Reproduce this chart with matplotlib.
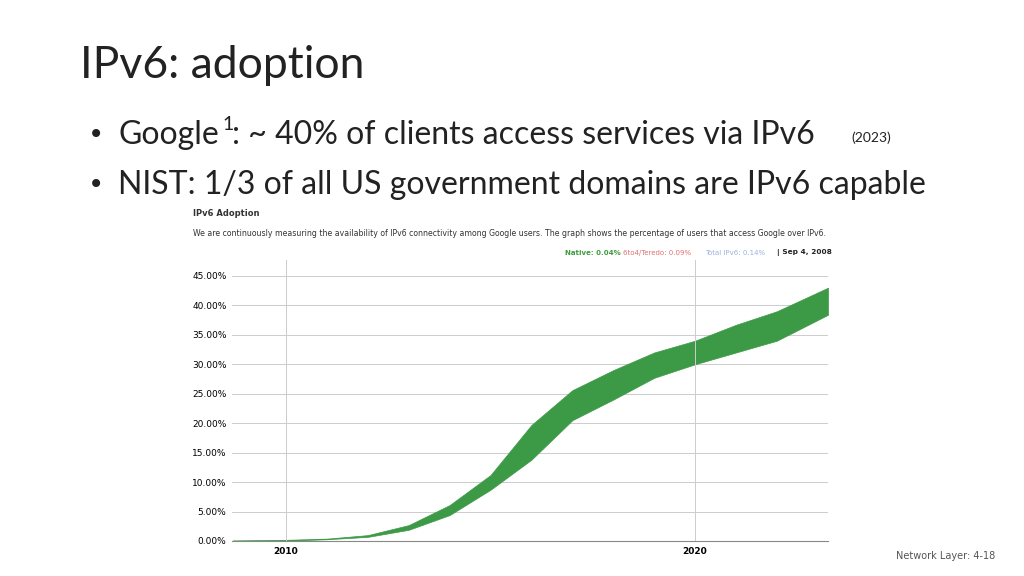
import numpy as np
import matplotlib.pyplot as plt

# yearly envelope of the Google IPv6 adoption band (%)
years = [2008.7, 2010, 2011, 2012, 2013, 2014, 2015, 2016, 2017, 2018, 2019, 2020, 2021, 2022, 2023.25]
low = [0.0, 0.05, 0.3, 0.7, 1.9, 4.4, 8.7, 13.8, 20.5, 24.0, 27.7, 30.0, 32.0, 34.0, 38.4]
high = [0.1, 0.2, 0.4, 1.0, 2.7, 6.1, 11.2, 19.7, 25.6, 29.0, 32.0, 34.0, 36.7, 39.0, 43.0]
yticks = [0, 5, 10, 15, 20, 25, 30, 35, 40, 45]
xticks = [2010, 2020]

fig = plt.figure(figsize=(10.24, 5.76), dpi=100)
fig.patch.set_facecolor('white')

fig.text(80/1024, 1-65/576, "IPv6: adoption", fontsize=32, va='center', family='Lato', color='#222222')
fig.text(88/1024, 1-135/576, "•", fontsize=20, va='center', color='#222222')
fig.text(118/1024, 1-135/576, "Google", fontsize=23, va='center', family='Lato', color='#222222')
fig.text(222/1024, 1-125/576, "1", fontsize=14, va='center', family='Lato', color='#222222')
fig.text(232/1024, 1-135/576, ": ~ 40% of clients access services via IPv6", fontsize=23,
         va='center', family='Lato', color='#222222')
fig.text(851/1024, 1-138/576, "(2023)", fontsize=10, va='center', family='Lato', color='#222222')
fig.text(88/1024, 1-185/576, "•", fontsize=20, va='center', color='#222222')
fig.text(118/1024, 1-185/576, "NIST: 1/3 of all US government domains are IPv6 capable", fontsize=23,
         va='center', family='Lato', color='#222222')

fig.text(193/1024, 1-213/576, "IPv6 Adoption", fontsize=6, weight='bold', va='center', color='#333333')
fig.text(193/1024, 1-234/576, "We are continuously measuring the availability of IPv6 connectivity among Google users. "
         "The graph shows the percentage of users that access Google over IPv6.", fontsize=5.6, va='center', color='#333333')
fig.text(565/1024, 1-253/576, "Native: 0.04%", fontsize=5, weight='bold', va='center', color='#3c9c3c')
fig.text(623/1024, 1-253/576, "6to4/Teredo: 0.09%", fontsize=5, va='center', color='#e07070')
fig.text(705/1024, 1-253/576, "Total IPv6: 0.14%", fontsize=5, va='center', color='#99b4dd')
fig.text(777/1024, 1-253/576, "| Sep 4, 2008", fontsize=5.3, weight='bold', va='center', color='#222222')

ax = fig.add_axes([232/1024, 1-541/576, 596/1024, 281/576])
ax.fill_between(years, low, high, color='#3c9a46', lw=0.5, edgecolor='#3c9a46')
ax.set_xlim(2008.68, 2023.25)
ax.set_ylim(0, 47.7)
ax.set_yticks(yticks)
ax.set_yticklabels([f"{v:.2f}%" for v in yticks], fontsize=6.5)
ax.set_xticks(xticks)
ax.set_xticklabels([str(v) for v in xticks], fontsize=6.5, weight='bold')
ax.tick_params(length=0, pad=4)
ax.grid(axis='y', color='#cccccc', lw=0.7)
for x in xticks:
    ax.axvline(x, color='#cccccc', lw=0.7)
for s in ['top', 'right', 'left']:
    ax.spines[s].set_visible(False)
ax.spines['bottom'].set_color('#888888')
ax.set_axisbelow(True)

fig.text(896/1024, 1-556/576, "Network Layer: 4-18", fontsize=7, va='center', color='#555555')

fig.savefig("out.png", dpi=100)
